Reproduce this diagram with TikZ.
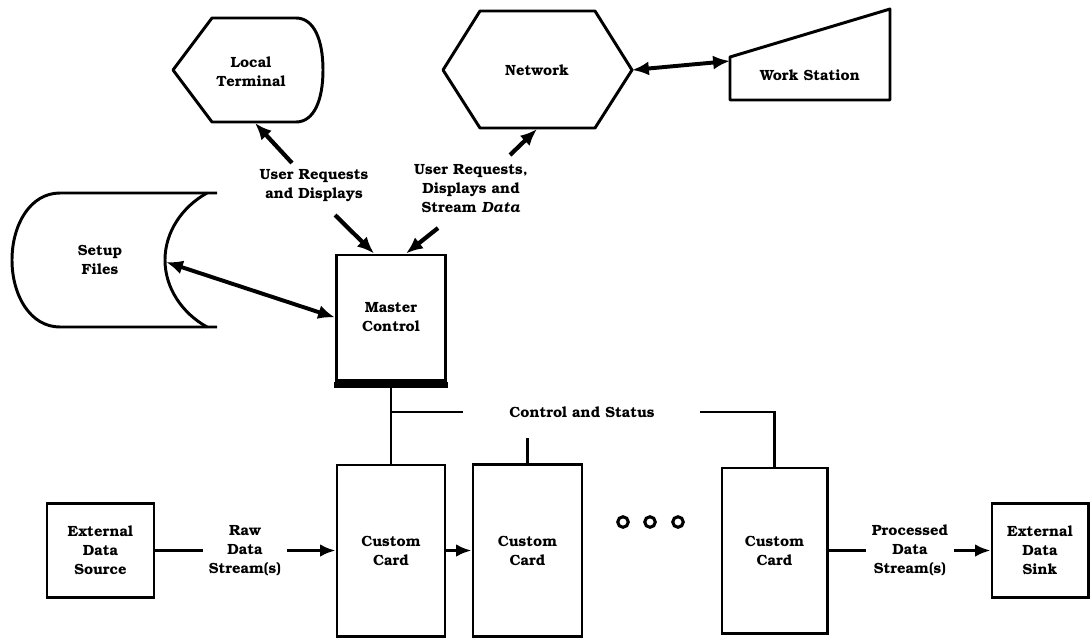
\documentclass[tikz,border=0pt]{standalone}
\usepackage[T1]{fontenc}
\usepackage{bookman}
\usepackage{tikz}
\usetikzlibrary{arrows.meta,calc}
\tikzstyle{box} = [draw=black, line width=2.1pt, rectangle, inner sep=0pt, align=center]
\tikzstyle{lbl} = [align=center, inner sep=4pt]
\tikzstyle{outline} = [line width=2.1pt, line join=round]
\tikzstyle{conn} = [line width=2.4pt]
\tikzstyle{arr} = [line width=2.4pt, -{Latex[length=11pt,width=9pt]}]
\tikzstyle{diagarr} = [line width=3pt, -{Latex[length=12pt,width=10pt]}]
\tikzstyle{biarr} = [line width=2.8pt, {Latex[length=12pt,width=10pt]}-{Latex[length=12pt,width=10pt]}]
\tikzstyle{bus} = [line width=1.8pt]
\tikzstyle{dot} = [draw, circle, line width=2.2pt, minimum size=7.5pt, inner sep=0pt]

\begin{document}
\begin{tikzpicture}[x=0.025cm, y=-0.025cm, font=\fontsize{10.5}{13.5}\selectfont\bfseries]
	\useasboundingbox (0,0) rectangle (1090,640);

	% display shapes on top
	\draw[outline] (173,70) -- (212,18) -- (296,18) .. controls (314,18) and (323,40) .. (323,70) .. controls (323,100) and (314,122) .. (296,122) -- (212,122) -- cycle;
	\node[lbl] (lt) at (251,72) {Local\\Terminal};
	\coordinate (lt-s) at (255,123);

	\draw[outline] (443,70) -- (480,11) -- (595,11) -- (632,70) -- (595,128) -- (480,128) -- cycle;
	\node[lbl] (nw) at (537,70) {Network};
	\coordinate (nw-s) at (537,129);
	\coordinate (nw-e) at (632,70);

	\draw[outline] (730,100) -- (730,57) -- (890,9) -- (890,100) -- cycle;
	\node[lbl] (ws) at (810,75) {Work Station};
	\coordinate (ws-w) at (730,61);

	% setup files (stored data)
	\draw[outline] (217,193) -- (60,193) .. controls (30,193) and (12,225) .. (12,260) .. controls (12,295) and (30,327) .. (60,327) -- (217,327);
	\draw[outline] (207,193) .. controls (182,207) and (165,232) .. (165,260) .. controls (165,288) and (182,313) .. (207,327);
	\node[lbl] (sf) at (100,260) {Setup\\Files};
	\coordinate (sf-e) at (166,262);

	\node[box, minimum width=2.725cm, minimum height=3.125cm] (mc) at (391,317.5) {Master\\Control};
	\fill ($(mc.south west)+(-1,0)$) rectangle ($(mc.south east)+(1,6)$);

	\node[lbl] (ureq) at (314,186) {User Requests\\and Displays};
	\node[lbl] (ureqnet) at (471,189) {User Requests,\\Displays and\\Stream \textit{Data}};
	\coordinate (ureq-t) at (292,163);
	\coordinate (ureq-b) at (335,215);
	\coordinate (unet-t) at (510,155);
	\coordinate (unet-b) at (438,228);

	\draw[diagarr] (ureq-t) -- (lt-s);
	\draw[diagarr] (ureq-b) -- ($(mc.north west)+(39,0)$);
	\draw[diagarr] (unet-t) -- (nw-s);
	\draw[diagarr] (unet-b) -- ($(mc.north west)+(71,0)$);
	\draw[biarr] (nw-e) -- (ws-w);
	\draw[biarr] (sf-e) -- (mc.west);

	% cards
	\node[box, minimum width=2.7cm, minimum height=4.275cm] (card1) at (391,550.5) {Custom\\Card};
	\node[box, minimum width=2.725cm, minimum height=4.3cm] (card2) at (527.5,550.5) {Custom\\Card};
	\node[box, minimum width=2.625cm, minimum height=4.125cm] (card4) at (774.5,550.5) {Custom\\Card};
	\foreach \x [count=\i] in {623,650,678}
		\node[dot] (dot\i) at (\x,522) {};

	% control bus
	\node[lbl] (cs) at (582,412) {Control and Status};
	\coordinate (bus-l) at (463,412);
	\coordinate (bus-r) at (700,412);
	\draw[bus] ($(mc.south)+(0,6)$) -- (mc.south |- card1.north);
	\draw[bus] (mc.south |- bus-l) -- (bus-l);
	\draw[bus] (bus-r) -- (card4.north |- bus-r) -- (card4.north);
	\draw[bus] (card2.north) -- ++(0,-25);

	% data path
	\node[box, minimum width=2.675cm, minimum height=2.35cm] (src) at (100.5,550.5) {External\\Data\\Source};
	\node[box, minimum width=2.4cm, minimum height=2.35cm] (sink) at (1040,550.5) {External\\Data\\Sink};
	\node[lbl] (raw) at (245,550.5) {Raw\\Data\\Stream(s)};
	\node[lbl] (proc) at (910,550.5) {Processed\\Data\\Stream(s)};
	\draw[conn] (src) -- (raw);
	\draw[arr] (raw) -- (card1);
	\draw[arr] (card1) -- (card2);
	\draw[conn] (card4) -- (proc);
	\draw[arr] (proc) -- (sink);
\end{tikzpicture}
\end{document}
